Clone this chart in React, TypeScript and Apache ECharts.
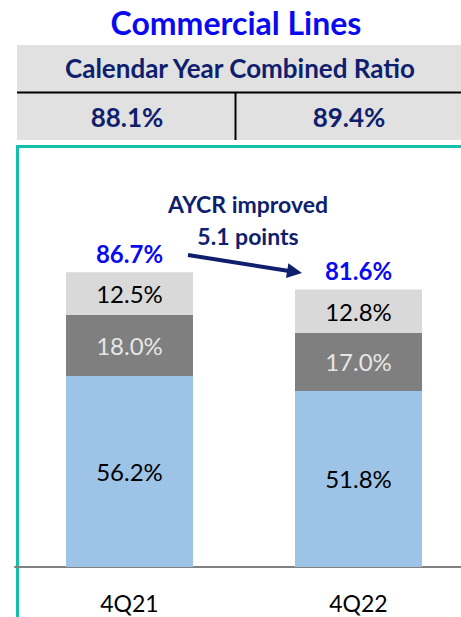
import React, { useEffect, useRef } from "react";
import * as echarts from "echarts";

const categories = ["4Q21", "4Q22"];
const lossSegment = [56.2, 51.8];
const middleSegment = [18.0, 17.0];
const topSegment = [12.5, 12.8];
const totals = [86.7, 81.6];
const calendarYearCR = ["88.1%", "89.4%"];

const NAVY = "#0f1f6e";
const BLUE = "#0a0af0";
const TEAL = "#14bfae";
const FONT = "Lato, 'Noto Sans', sans-serif";

export default function App() {
  const ref = useRef<HTMLDivElement>(null);
  useEffect(() => {
    if (!ref.current) return;
    const chart = echarts.init(ref.current, null, { renderer: "svg" });
    const sx = 188, sy = 255, tx = 302, ty = 273;
    const dx = tx - sx, dy = ty - sy;
    const len = Math.sqrt(dx * dx + dy * dy);
    const ux = dx / len, uy = dy / len;
    const hl = 15, hw = 7.5;
    const bx = tx - ux * hl, by = ty - uy * hl;
    const px = -uy, py = ux;

    const pctLabel = (color: string) => ({
      show: true,
      position: "inside" as const,
      color,
      fontFamily: FONT,
      fontSize: 24,
      formatter: (p: any) => p.value.toFixed(1) + "%",
    });

    chart.setOption({
      animation: false,
      backgroundColor: "#ffffff",
      grid: { left: 15, width: 458, top: 227, height: 340, outerBoundsMode: "none", containLabel: false },
      xAxis: {
        type: "category",
        data: categories,
        axisLine: { show: true, lineStyle: { color: "#808080", width: 2 } },
        axisTick: { show: false },
        axisLabel: { color: "#000", fontFamily: FONT, fontSize: 23, margin: 24 },
      },
      yAxis: { type: "value", min: 0, max: 100, show: false, splitLine: { show: false } },
      series: [
        {
          type: "bar",
          stack: "cr",
          data: lossSegment,
          barWidth: 127,
          itemStyle: { color: "#9dc3e6" },
          label: pctLabel("#000"),
        },
        {
          type: "bar",
          stack: "cr",
          data: middleSegment,
          barWidth: 127,
          itemStyle: { color: "#7f7f7f" },
          label: pctLabel("#e6e6e6"),
        },
        {
          type: "bar",
          stack: "cr",
          data: topSegment,
          barWidth: 127,
          itemStyle: { color: "#d9d9d9" },
          label: pctLabel("#000"),
        },
        {
          type: "scatter",
          data: totals,
          symbolSize: 0,
          itemStyle: { opacity: 1 },
          label: {
            show: true,
            position: "top",
            distance: 7,
            color: BLUE,
            opacity: 1,
            fontFamily: FONT,
            fontWeight: "bold",
            fontSize: 24,
            formatter: (p: any) => p.value.toFixed(1) + "%",
          },
        },
      ],
      graphic: [
        {
          type: "text",
          x: 236,
          y: 22,
          style: { text: "Commercial Lines", fill: BLUE, font: `bold 32px ${FONT}`, align: "center", verticalAlign: "middle" },
        },
        { type: "rect", shape: { x: 17, y: 45, width: 444, height: 95 }, style: { fill: "#e1e1e1" } },
        { type: "line", shape: { x1: 17, y1: 92.5, x2: 461, y2: 92.5 }, style: { stroke: "#000", lineWidth: 2 } },
        { type: "line", shape: { x1: 235.5, y1: 93, x2: 235.5, y2: 140 }, style: { stroke: "#000", lineWidth: 2 } },
        {
          type: "text",
          x: 240,
          y: 68,
          style: { text: "Calendar Year Combined Ratio", fill: NAVY, font: `bold 26px ${FONT}`, align: "center", verticalAlign: "middle" },
        },
        {
          type: "text",
          x: 127,
          y: 117,
          style: { text: calendarYearCR[0], fill: NAVY, font: `bold 26px ${FONT}`, align: "center", verticalAlign: "middle" },
        },
        {
          type: "text",
          x: 349,
          y: 117,
          style: { text: calendarYearCR[1], fill: NAVY, font: `bold 26px ${FONT}`, align: "center", verticalAlign: "middle" },
        },
        { type: "line", shape: { x1: 16, y1: 146.5, x2: 461, y2: 146.5 }, style: { stroke: TEAL, lineWidth: 3 } },
        { type: "line", shape: { x1: 17.5, y1: 145, x2: 17.5, y2: 617 }, style: { stroke: TEAL, lineWidth: 3 } },
        {
          type: "text",
          x: 248,
          y: 204,
          style: { text: "AYCR improved", fill: NAVY, font: `bold 23px ${FONT}`, align: "center", verticalAlign: "middle" },
        },
        {
          type: "text",
          x: 248,
          y: 236,
          style: { text: "5.1 points", fill: NAVY, font: `bold 23px ${FONT}`, align: "center", verticalAlign: "middle" },
        },
        {
          type: "line",
          shape: { x1: sx, y1: sy, x2: bx + ux * 2, y2: by + uy * 2 },
          style: { stroke: NAVY, lineWidth: 4 },
        },
        {
          type: "polygon",
          shape: {
            points: [
              [tx, ty],
              [bx + px * hw, by + py * hw],
              [bx - px * hw, by - py * hw],
            ],
          },
          style: { fill: NAVY },
        },
      ],
    });
    return () => chart.dispose();
  }, []);
  return (
    <div
      ref={ref}
      style={{ position: "absolute", left: 0, top: 0, width: 461, height: 617 }}
    />
  );
}
